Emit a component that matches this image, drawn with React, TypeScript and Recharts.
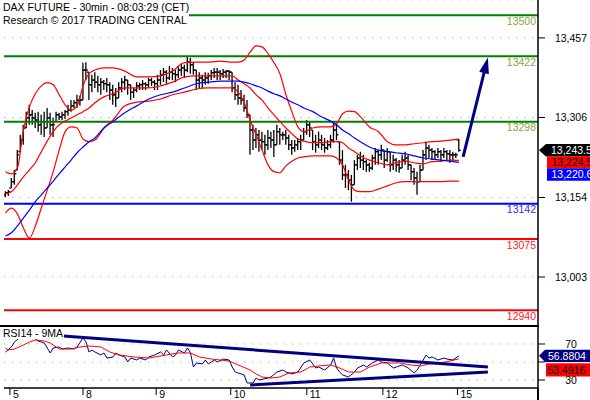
import React from 'react';
import { ComposedChart, Bar, Line, XAxis, YAxis, CartesianGrid, ReferenceLine } from 'recharts';

const FONT = '"Liberation Sans", Arial, sans-serif';

// ---- OHLC 30-min bars (bar index 0..152) ----
const barOpen = [
  13159,13163,13172,13184,13206,13241,13263,13286,13305,13311,
  13305,13301,13292,13298,13286,13305,13292,13298,13311,13307,
  13311,13317,13320,13328,13334,13339,13339,13396,13392,13368,
  13377,13373,13368,13373,13370,13368,13358,13349,13343,13362,
  13373,13377,13368,13354,13358,13366,13368,13370,13368,13377,
  13373,13370,13377,13387,13392,13381,13392,13389,13387,13396,
  13400,13396,13411,13406,13396,13377,13381,13377,13381,13385,
  13391,13392,13392,13389,13392,13394,13392,13362,13349,13343,
  13339,13324,13311,13282,13263,13273,13263,13260,13254,13267,
  13263,13254,13279,13273,13273,13267,13254,13248,13254,13260,
  13263,13279,13292,13282,13260,13254,13263,13254,13248,13254,
  13263,13282,13260,13225,13197,13197,13187,13178,13216,13229,
  13225,13222,13216,13210,13229,13241,13235,13244,13225,13241,
  13216,13225,13216,13210,13225,13229,13216,13203,13191,13184,
  13206,13235,13248,13244,13241,13235,13241,13235,13241,13237,
  13235,13235,13263,
];
const barHigh = [
  13166,13168,13191,13206,13244,13273,13292,13317,13330,13320,
  13315,13317,13311,13317,13324,13315,13305,13317,13315,13317,
  13320,13330,13339,13339,13349,13347,13410,13411,13392,13387,
  13392,13385,13381,13377,13381,13373,13368,13362,13373,13381,
  13385,13377,13368,13362,13373,13372,13377,13373,13381,13381,
  13377,13387,13396,13400,13396,13404,13400,13396,13404,13408,
  13406,13421,13419,13411,13396,13392,13387,13392,13391,13396,
  13400,13400,13396,13398,13396,13396,13392,13373,13368,13358,
  13349,13339,13311,13292,13286,13282,13279,13273,13282,13279,
  13282,13292,13286,13279,13282,13273,13263,13263,13267,13273,
  13286,13301,13298,13282,13273,13279,13273,13267,13263,13273,
  13296,13292,13260,13244,13216,13206,13197,13225,13235,13241,
  13235,13225,13220,13235,13248,13244,13254,13244,13248,13241,
  13235,13229,13225,13235,13241,13235,13216,13210,13203,13216,
  13244,13260,13254,13248,13244,13248,13244,13248,13244,13244,
  13241,13239,13265,
];
const barLow = [
  13155,13157,13172,13178,13206,13241,13254,13286,13292,13292,
  13286,13279,13273,13269,13286,13273,13269,13298,13301,13301,
  13303,13309,13317,13324,13324,13328,13339,13377,13339,13354,
  13362,13354,13349,13358,13354,13339,13330,13326,13343,13354,
  13358,13349,13339,13343,13354,13358,13358,13358,13362,13366,
  13358,13358,13368,13373,13370,13377,13377,13373,13381,13385,
  13381,13392,13389,13387,13358,13362,13362,13368,13370,13377,
  13381,13377,13377,13381,13381,13377,13354,13339,13330,13330,
  13317,13305,13235,13244,13248,13241,13244,13235,13244,13248,
  13231,13254,13254,13263,13254,13244,13235,13241,13244,13244,
  13263,13273,13269,13244,13239,13248,13244,13239,13244,13248,
  13258,13263,13216,13187,13172,13168,13146,13178,13206,13210,
  13206,13203,13203,13206,13216,13216,13225,13210,13222,13203,
  13206,13203,13201,13210,13216,13206,13187,13178,13159,13184,
  13206,13225,13229,13225,13225,13229,13222,13229,13225,13220,
  13225,13229,13241,
];
const barClose = [
  13163,13165,13184,13199,13235,13263,13286,13305,13311,13305,
  13301,13292,13298,13286,13305,13292,13292,13311,13307,13311,
  13317,13320,13328,13334,13339,13339,13396,13396,13368,13377,
  13373,13368,13373,13370,13368,13358,13349,13343,13362,13373,
  13377,13368,13354,13358,13366,13368,13370,13368,13377,13373,
  13370,13377,13387,13392,13381,13392,13389,13387,13396,13400,
  13396,13411,13406,13396,13377,13381,13377,13381,13385,13391,
  13392,13392,13389,13392,13394,13392,13362,13349,13343,13339,
  13324,13311,13282,13263,13273,13263,13260,13254,13267,13263,
  13254,13279,13273,13273,13267,13254,13248,13254,13260,13263,
  13279,13292,13286,13260,13254,13263,13254,13248,13254,13263,
  13282,13273,13225,13197,13197,13187,13178,13216,13229,13225,
  13222,13216,13210,13229,13241,13235,13244,13225,13241,13216,
  13225,13216,13210,13225,13229,13216,13203,13191,13184,13206,
  13235,13248,13244,13241,13235,13241,13235,13241,13237,13235,
  13235,13235,13243.5,
];

// ---- Bollinger bands & moving average (sampled at bar indices) ----
const bandIdx = [0,2,4,6,8,10,12,14,16,18,20,22,24,26,28,30,33,36,40,44,48,52,56,60,64,68,72,76,78,80,82,84,86,88,90,92,94,96,98,100,103,106,109,111,113,115,117,119,122,125,128,131,134,137,140,143,146,149,152];
const bandUpper = [13203,13199,13210,13282,13326,13351,13366,13372,13368,13349,13330,13320,13328,13366,13389,13396,13400,13400,13394,13383,13383,13385,13394,13410,13411,13411,13413,13411,13411,13415,13430,13442,13440,13427,13410,13389,13349,13317,13288,13279,13286,13288,13288,13294,13313,13318,13317,13307,13288,13279,13260,13254,13254,13256,13258,13260,13261,13263,13265];
const bandMiddle = [13161,13165,13178,13193,13206,13220,13241,13261,13279,13292,13299,13305,13311,13317,13324,13334,13345,13351,13362,13362,13362,13366,13373,13383,13385,13385,13385,13385,13377,13370,13362,13349,13339,13324,13311,13298,13286,13275,13265,13261,13258,13258,13260,13260,13258,13248,13241,13233,13225,13220,13216,13220,13223,13220,13218,13222,13223,13225,13224.5];
const bandLower = [13125,13134,13123,13096,13077,13100,13134,13168,13203,13244,13279,13288,13286,13265,13260,13263,13286,13301,13328,13335,13337,13341,13349,13354,13360,13362,13362,13362,13354,13335,13301,13273,13244,13216,13203,13201,13214,13223,13229,13231,13233,13233,13233,13229,13216,13187,13168,13165,13165,13170,13176,13182,13184,13184,13184,13184,13184,13185,13185];
const maBlue = [13081,13087,13100,13115,13130,13146,13159,13172,13185,13199,13212,13225,13239,13250,13260,13267,13286,13298,13315,13328,13341,13349,13354,13362,13370,13373,13375,13375,13375,13373,13370,13366,13362,13356,13351,13347,13341,13335,13330,13324,13317,13307,13299,13292,13282,13275,13267,13260,13250,13244,13241,13239,13237,13233,13229,13227,13225,13223,13220.6];

// ---- Support / resistance levels ----
const levelValues = [13500, 13422, 13298, 13142, 13075, 12940];
const levelLineColors = ['#008000', '#008000', '#008000', '#0000ff', '#ff0000', '#ff0000'];
const levelTextColors = ['#8da33b', '#8da33b', '#8da33b', '#2b2bff', '#ff2020', '#ff2020'];

// ---- Projection arrow (bar index, price) ----
const arrowFrom = { i: 153.4, p: 13231 };
const arrowTo = { i: 161.7, p: 13420 };

// ---- Axes ----
const priceTicks = [13003, 13154, 13306, 13457];
const dayTicks = [1.5, 26, 50.5, 75.5, 101, 126.5, 151.5];
const dayLabels = ['5', '8', '9', '10', '11', '12', '15'];
const rsiTicks = [30, 50, 70];

// ---- Last values ----
const lastClose = 13243.5;
const lastMiddle = 13224.5;
const lastMa = 13220.6;
const lastRsi = 56.8804;
const lastRsiMa = 53.4916;

// ---- RSI14 and its 9MA ----
const rsiIdx = [0,2,3,5,7,9,11,12,13,15,16,18,19,21,23,24,26,27,28,29,30,32,33,34,36,37,38,40,41,42,44,45,47,48,50,52,53,54,56,57,58,60,61,62,63,64,66,67,68,70,71,73,75,76,77,78,80,81,83,84,85,88,89,91,93,94,96,98,100,102,104,105,107,109,110,111,112,113,115,117,118,120,121,123,125,126,128,130,131,133,135,137,138,140,141,142,143,145,147,148,150,152];
const rsiVal = [61.1,66.7,72.2,77.8,80,77.8,73.3,72.2,71.1,60,65.6,66.7,64.4,65.6,64.4,66.7,76.7,72.2,61.1,63.3,61.1,57.8,60,54.4,55.6,60,57.8,55.6,50,54.4,52.2,54.4,52.2,55.6,57.8,61.1,57.8,63.3,55.6,57.8,63.3,60,65.6,60,44.4,48.9,47.8,52.2,47.8,52.2,50,53.3,52.2,44.4,38.9,37.8,35.6,26.7,26.7,32.2,30,32.2,33.3,38.9,41.1,38.9,36.7,38.9,48.9,52.2,43.3,44.4,41.1,46.7,54.4,43.3,38.9,35.6,33.3,38.9,43.3,46.7,44.4,48.9,52.2,50,48.9,43.3,44.4,46.7,43.3,37.8,41.1,52.2,57.8,54.4,55.6,52.2,54.4,53.3,52.2,56.8804];
const rsiMaIdx = [0,1,3,6,8,10,13,15,18,22,25,28,32,35,38,43,48,54,58,62,65,69,72,75,78,82,84,86,89,92,95,99,102,105,109,112,115,119,122,126,129,132,136,139,142,146,149,152];
const rsiMaVal = [65.6,63.3,64.4,68.9,72.2,74.4,73.3,71.1,64.4,64.4,66.7,67.8,66.7,61.1,57.8,55.6,54.4,57.8,60,60,55.6,53.3,52.2,51.1,46.7,41.1,36.7,33.3,32.2,33.3,37.8,38.9,44.4,45.6,46.7,43.3,38.9,38.9,44.4,48.9,48.9,48.9,46.7,45.6,47.8,48.9,51.1,53.4916];
const rsiUpperTrend = [{ i: 19.3, v: 78.9 }, { i: 161.7, v: 44.4 }];
const rsiLowerTrend = [{ i: 82, v: 24.4 }, { i: 161.7, v: 38.9 }];

// ---- build tables ----
const mainData: any[] = barClose.map((c, i) => ({ i, o: barOpen[i], h: barHigh[i], l: barLow[i], c }));
bandIdx.forEach((idx, k) => {
  Object.assign(mainData[idx], { up: bandUpper[k], mid: bandMiddle[k], lo: bandLower[k], ma: maBlue[k] });
});
const rsiData: any[] = barClose.map((_, i) => ({ i }));
rsiIdx.forEach((idx, k) => { rsiData[idx].rsi = rsiVal[k]; });
rsiMaIdx.forEach((idx, k) => { rsiData[idx].rma = rsiMaVal[k]; });

const X_DOMAIN: [number, number] = [-0.5, 178.5];

const OhlcShape = (props: any) => {
  const { x, y, width, height, payload } = props;
  if (x == null || y == null || !payload) return null;
  const top = Math.min(y, y + height);
  const bot = Math.max(y, y + height);
  const cx = x + width / 2;
  const span = payload.h - payload.l;
  const py = (v: number) => (span === 0 ? top : top + ((payload.h - v) / span) * (bot - top));
  return (
    <g stroke="#000" strokeWidth={1.3}>
      <line x1={cx} x2={cx} y1={top} y2={bot} />
      <line x1={cx - 2} x2={cx} y1={py(payload.o)} y2={py(payload.o)} />
      <line x1={cx} x2={cx + 2} y1={py(payload.c)} y2={py(payload.c)} />
    </g>
  );
};

const ArrowShape = (p: any) => {
  const { x1, y1, x2, y2 } = p;
  if ([x1, y1, x2, y2].some((v) => v == null || isNaN(v))) return null;
  const dx = x2 - x1, dy = y2 - y1;
  const len = Math.hypot(dx, dy) || 1;
  const ux = dx / len, uy = dy / len;
  const hl = 16, hw = 5;
  const bx = x2 - ux * hl, by = y2 - uy * hl;
  const px = -uy, py = ux;
  return (
    <g>
      <line x1={x1} y1={y1} x2={bx + ux * 2} y2={by + uy * 2} stroke="#000080" strokeWidth={3} />
      <polygon points={`${x2},${y2} ${bx + px * hw},${by + py * hw} ${bx - px * hw},${by - py * hw}`} fill="#000080" />
    </g>
  );
};

const Tag = (p: any) => {
  const vb = p.viewBox || {};
  const right = (vb.x ?? 0) + (vb.width ?? 0);
  const cy = (vb.y ?? 0) + (p.dy || 0);
  const h = p.h || 13;
  const bx = right + (p.boxX ?? 8);
  const far = right + 80;
  const d = p.arrow
    ? `M${right + 1},${cy} L${bx},${cy - h / 2} L${far},${cy - h / 2} L${far},${cy + h / 2} L${bx},${cy + h / 2} Z`
    : `M${bx},${cy - h / 2} L${far},${cy - h / 2} L${far},${cy + h / 2} L${bx},${cy + h / 2} Z`;
  return (
    <g>
      <path d={d} fill={p.bg} />
      <text x={right + (p.tx ?? 13)} y={cy + 3.8} fill={p.fg} fontSize={10.5} fontFamily={FONT}>{p.text}</text>
    </g>
  );
};

const PriceTick = (p: any) => (
  <text x={p.x} y={p.y + 3.8} textAnchor="middle" fontSize={10.5} fontFamily={FONT} fill="#000">
    {Number(p.payload?.value).toLocaleString('en-US')}
  </text>
);

const RsiTick = (p: any) => {
  const v = p.payload?.value;
  if (v === 50) return <g />;
  return (
    <text x={p.x} y={p.y + 3.8} textAnchor="middle" fontSize={10.5} fontFamily={FONT} fill="#000">{v}</text>
  );
};

const DayTick = (p: any) => {
  const k = dayTicks.indexOf(p.payload?.value);
  return (
    <text x={p.x + 3} y={p.y + 3} textAnchor="start" fontSize={10.5} fontFamily={FONT} fill="#000">
      {k >= 0 ? dayLabels[k] : ''}
    </text>
  );
};

const fmt1 = (v: number) => v.toLocaleString('en-US', { minimumFractionDigits: 1, maximumFractionDigits: 1 });

export default function App() {
  return (
    <div style={{ position: 'absolute', left: 0, top: 0, width: 590, height: 400, background: '#fff', overflow: 'hidden', fontFamily: FONT }}>
      <div style={{ position: 'absolute', left: 0, top: 0 }}>
        <ComposedChart width={590} height={326} data={mainData} margin={{ top: 0, right: 0, bottom: 0, left: 4 }}>
          <CartesianGrid vertical={false} stroke="#b8b8b8" strokeDasharray="1.5 6.5" />
          <XAxis dataKey="i" type="number" domain={X_DOMAIN} allowDataOverflow hide />
          <YAxis
            orientation="right"
            type="number"
            domain={[12910, 13529]}
            allowDataOverflow
            ticks={priceTicks}
            interval={0}
            width={52}
            tickSize={7}
            tickMargin={26}
            axisLine={{ stroke: '#000', strokeWidth: 1.5 }}
            tickLine={{ stroke: '#000' }}
            tick={<PriceTick />}
          />
          {levelValues.map((v, k) => (
            <ReferenceLine
              key={v}
              y={v}
              stroke={levelLineColors[k]}
              strokeWidth={2}
              label={{ value: String(v), position: 'insideTopRight', offset: 2, fill: levelTextColors[k], fontSize: 10.5, fontFamily: FONT }}
            />
          ))}
          <Bar dataKey={(d: any) => [d.l, d.h]} barSize={3} shape={<OhlcShape />} isAnimationActive={false} />
          <Line type="monotone" dataKey="up" stroke="#ff0000" strokeWidth={1.2} dot={false} connectNulls isAnimationActive={false} />
          <Line type="monotone" dataKey="mid" stroke="#ff0000" strokeWidth={1.2} dot={false} connectNulls isAnimationActive={false} />
          <Line type="monotone" dataKey="lo" stroke="#ff0000" strokeWidth={1.2} dot={false} connectNulls isAnimationActive={false} />
          <Line type="monotone" dataKey="ma" stroke="#0000ff" strokeWidth={1.2} dot={false} connectNulls isAnimationActive={false} />
          <ReferenceLine
            segment={[{ x: arrowFrom.i, y: arrowFrom.p }, { x: arrowTo.i, y: arrowTo.p }]}
            stroke="#000080"
            strokeWidth={3}
            shape={ArrowShape}
          />
          <ReferenceLine y={lastClose} stroke="none" label={<Tag text={fmt1(lastClose)} bg="#000" fg="#fff" arrow h={12.5} boxX={8} tx={13} />} />
          <ReferenceLine y={lastMiddle} stroke="none" label={<Tag text={fmt1(lastMiddle)} bg="#ff0000" fg="#000" dy={2} h={12} boxX={9} tx={13.5} />} />
          <ReferenceLine y={lastMa} stroke="none" label={<Tag text={fmt1(lastMa)} bg="#0000ff" fg="#fff" dy={12} h={12.5} boxX={9} tx={13.5} />} />
        </ComposedChart>
      </div>

      <div style={{ position: 'absolute', left: 0, top: 326 }}>
        <ComposedChart width={590} height={74} data={rsiData} margin={{ top: 0, right: 0, bottom: 0, left: 4 }}>
          <CartesianGrid vertical={false} stroke="#b8b8b8" strokeDasharray="1.5 6.5" />
          <XAxis
            dataKey="i"
            type="number"
            domain={X_DOMAIN}
            allowDataOverflow
            ticks={dayTicks}
            interval={0}
            height={12}
            tickSize={7}
            tickMargin={0}
            axisLine={{ stroke: '#000', strokeWidth: 1.5 }}
            tickLine={{ stroke: '#000' }}
            tick={<DayTick />}
          />
          <YAxis
            orientation="right"
            type="number"
            domain={[21.1, 90]}
            allowDataOverflow
            ticks={rsiTicks}
            interval={0}
            width={52}
            tickSize={7}
            tickMargin={26}
            axisLine={{ stroke: '#000', strokeWidth: 1.5 }}
            tickLine={{ stroke: '#000' }}
            tick={<RsiTick />}
          />
          <Line type="linear" dataKey="rsi" stroke="#000080" strokeWidth={1} dot={false} connectNulls isAnimationActive={false} />
          <Line type="linear" dataKey="rma" stroke="#ff0000" strokeWidth={1} dot={false} connectNulls isAnimationActive={false} />
          <ReferenceLine
            segment={[{ x: rsiUpperTrend[0].i, y: rsiUpperTrend[0].v }, { x: rsiUpperTrend[1].i, y: rsiUpperTrend[1].v }]}
            stroke="#000080"
            strokeWidth={3}
          />
          <ReferenceLine
            segment={[{ x: rsiLowerTrend[0].i, y: rsiLowerTrend[0].v }, { x: rsiLowerTrend[1].i, y: rsiLowerTrend[1].v }]}
            stroke="#000080"
            strokeWidth={3}
          />
          <ReferenceLine y={lastRsi} stroke="none" label={<Tag text={lastRsi.toFixed(4)} bg="#000080" fg="#fff" arrow h={12.3} boxX={7} tx={10} />} />
          <ReferenceLine y={lastRsiMa} stroke="none" label={<Tag text={lastRsiMa.toFixed(4)} bg="#ff0000" fg="#000" dy={11} h={13.4} boxX={8} tx={9.5} />} />
        </ComposedChart>
      </div>

      {/* panel separator and axis extension */}
      <div style={{ position: 'absolute', left: 0, top: 325, width: 539, height: 1.5, background: '#000' }} />
      <div style={{ position: 'absolute', left: 537, top: 388, width: 1.5, height: 12, background: '#000' }} />

      {/* titles */}
      <div style={{ position: 'absolute', left: 0, top: 0, padding: '1px 2px 0 3px', background: '#fff', fontSize: 10.5, lineHeight: '13px', whiteSpace: 'nowrap', color: '#000' }}>
        DAX FUTURE - 30min - 08:03:29 (CET)
      </div>
      <div style={{ position: 'absolute', left: 0, top: 14, padding: '0 2px 0 3px', background: '#fff', fontSize: 10.5, lineHeight: '12px', whiteSpace: 'nowrap', color: '#000' }}>
        Research © 2017 TRADING CENTRAL
      </div>
      <div style={{ position: 'absolute', left: 0, top: 327, padding: '0 1px 0 3px', background: '#fff', fontSize: 10.5, lineHeight: '12px', whiteSpace: 'nowrap', color: '#000' }}>
        RSI14 - 9MA
      </div>
    </div>
  );
}
